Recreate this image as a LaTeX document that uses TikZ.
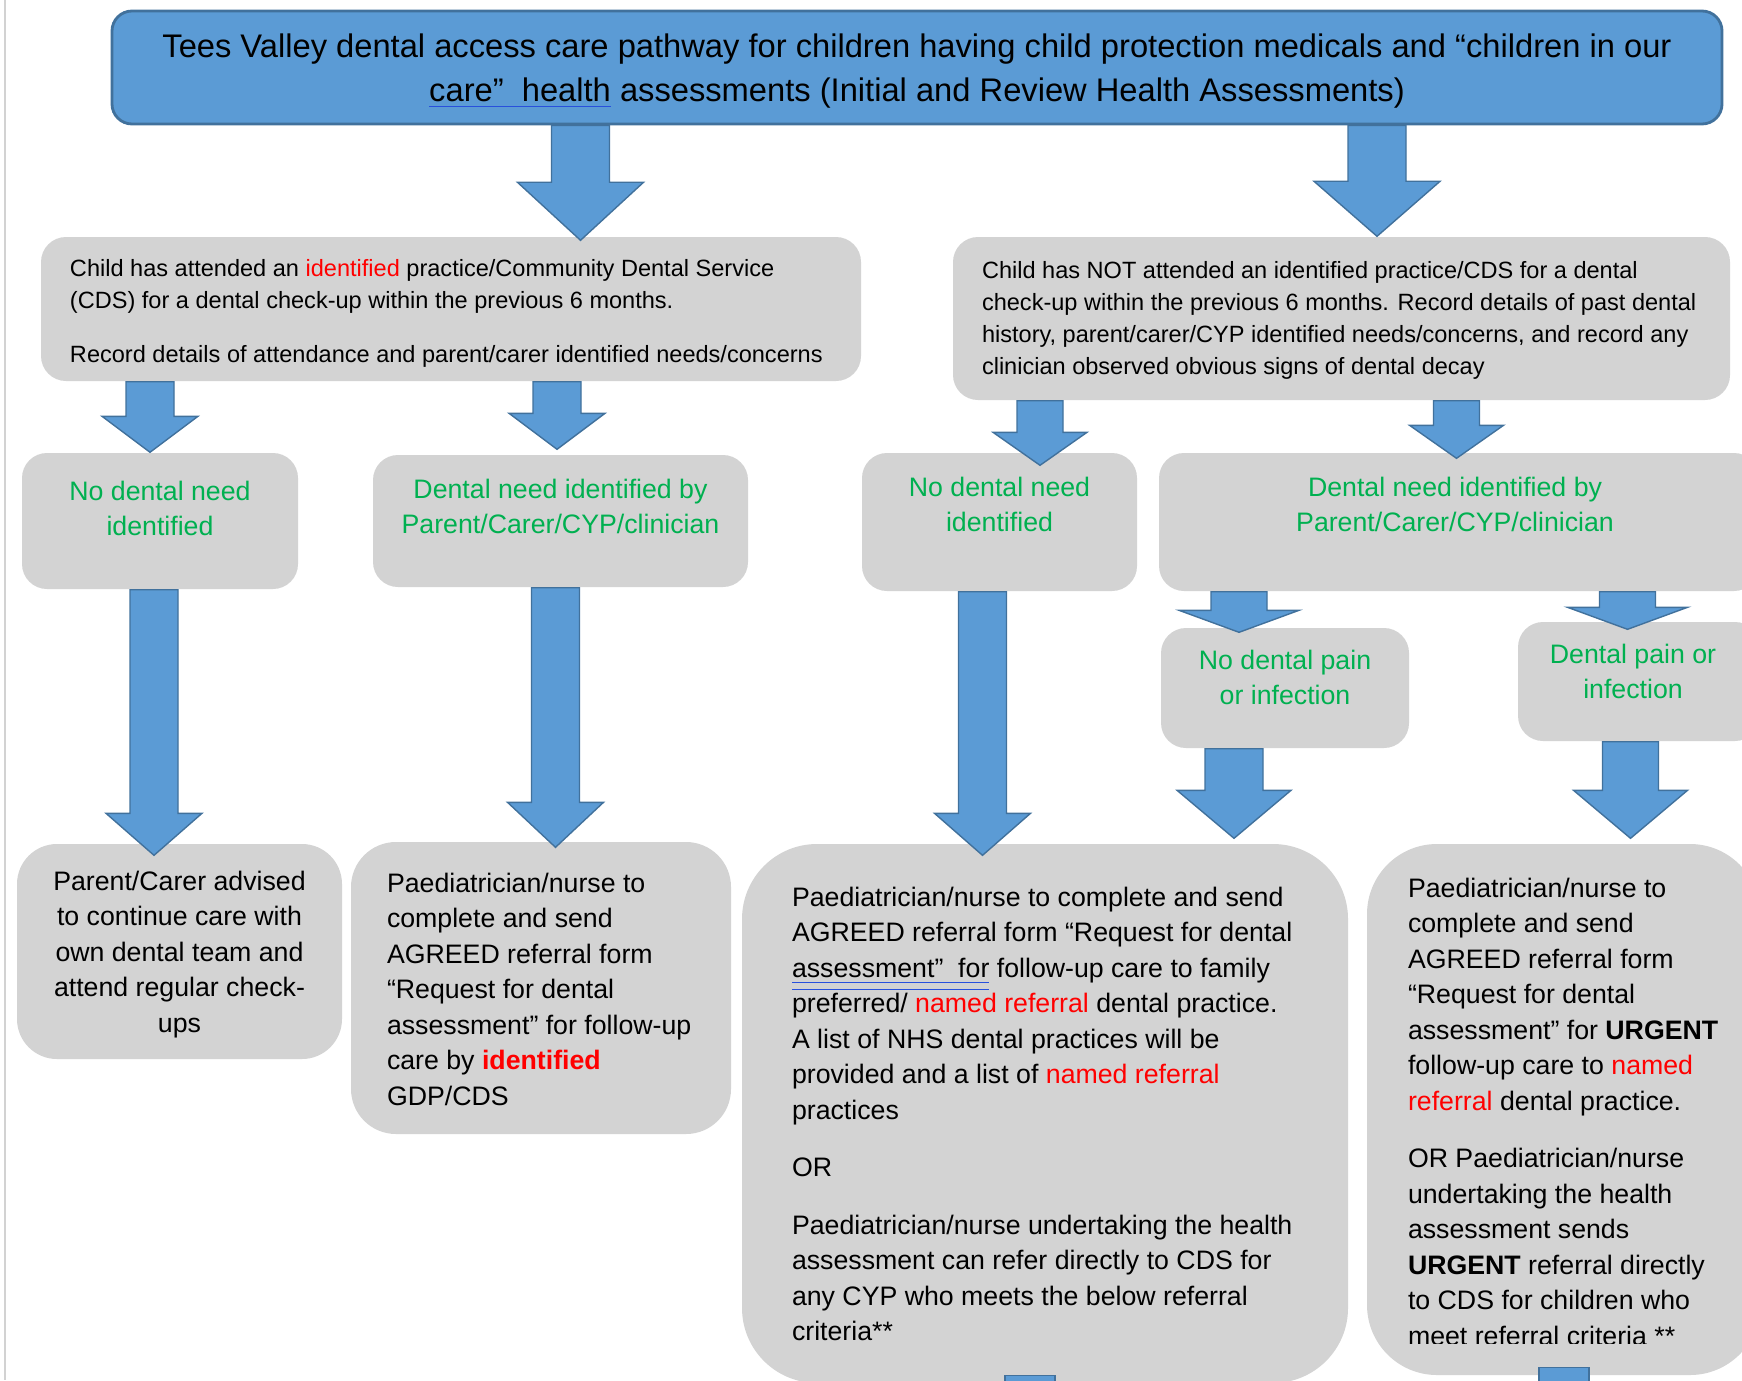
\documentclass[tikz,border=0pt]{standalone}
\usepackage{fontspec}
\setmainfont{Liberation Sans}
\usepackage{xcolor}
\definecolor{PathBlue}{RGB}{91,155,213}
\definecolor{PathEdge}{RGB}{65,113,156}
\definecolor{BoxGray}{RGB}{211,211,211}
\definecolor{NeedGreen}{RGB}{0,176,80}
\definecolor{FlagRed}{RGB}{255,0,0}
\definecolor{MarkBlue}{RGB}{40,80,220}
\usetikzlibrary{positioning}
\usetikzlibrary{calc}

\newcommand{\flag}[1]{\textcolor{FlagRed}{#1}}
\newcommand{\gramline}[1]{{\color{MarkBlue}\underline{\color{black}#1}}}
\newcommand{\gramlines}[1]{{\color{MarkBlue}\underline{\underline{\color{black}#1}}}}

% block arrow: column, from, to, shaft half width, head half width, head length, tip dip
\newcommand{\bigarrow}[7]{%
  \draw[bigarrow] let \p1 = (#1 |- #2.south), \p2 = ([yshift=-#7]#1 |- #3.north) in
    (\x1-#4,\y1) -- (\x1+#4,\y1) -- (\x1+#4,\y2+#6) -- (\x1+#5,\y2+#6)
    -- (\x1,\y2) -- (\x1-#5,\y2+#6) -- (\x1-#4,\y2+#6) -- cycle;}

\begin{document}
\begin{tikzpicture}[
      , box/.style={fill=BoxGray, inner sep=0pt, rounded corners=#1}
      , box/.default=0.25cm
      , titlebox/.style={fill=PathBlue, draw=PathEdge, line width=0.8pt, rounded corners=0.2cm}
      , titletext/.style={align=center, inner sep=0pt, font=\fontsize{9.3}{12.6}\selectfont}
      , bigarrow/.style={fill=PathBlue, draw=PathEdge, line width=0.4pt}
      , note/.style={align=left, inner sep=0pt, font=\fontsize{6.7}{9.1}\selectfont}
      , need/.style={align=center, inner sep=0pt, text=NeedGreen, font=\fontsize{7.6}{10.1}\selectfont}
      , action/.style={align=left, inner sep=0pt, font=\fontsize{7.6}{10.1}\selectfont}
      ]

      \useasboundingbox (0,0) rectangle (17.42,-13.80);
      \clip (0,0) rectangle (17.42,-13.80);
      \draw[gray!35, line width=0.6pt] (0.05,0) -- (0.05,-13.80);

      % title
      \node[titlebox, minimum width=16.10cm, minimum height=1.13cm] (title) at (9.17,-0.675) {};
      \node[titletext] (title-text) at ([yshift=-0.035cm]title.center)
        {Tees Valley dental access care pathway for children having child protection medicals and “children in our\\
         \gramline{care”\ \ health} assessments (Initial and Review Health Assessments)};

      % first split
      \node[box, minimum width=8.20cm, minimum height=1.44cm] (attended) at (4.51,-3.09) {};
      \node[box, minimum width=7.77cm, minimum height=1.63cm] (notattended) at (13.415,-3.185) {};

      \node[note, below right=0.22cm and 0.29cm of attended.north west] (attended-text)
        {Child has attended an \flag{identified} practice/Community Dental Service\\
         (CDS) for a dental check-up within the previous 6 months.\\[0.22cm]
         Record details of attendance and parent/carer identified needs/concerns};
      \node[note, below right=0.24cm and 0.29cm of notattended.north west] (notattended-text)
        {Child has NOT attended an identified practice/CDS for a dental\\
         check-up within the previous 6 months. Record details of past dental\\
         history, parent/carer/CYP identified needs/concerns, and record any\\
         clinician observed obvious signs of dental decay};

      % need / no need
      \node[box, minimum width=2.76cm, minimum height=1.36cm] (noneed-l) at (1.60,-5.21) {};
      \node[box, minimum width=3.75cm, minimum height=1.32cm] (need-l) at (5.605,-5.21) {};
      \node[box, minimum width=2.75cm, minimum height=1.38cm] (noneed-r) at (9.995,-5.22) {};
      \node[box, minimum width=6.00cm, minimum height=1.38cm] (need-r) at (14.59,-5.22) {};

      \node[need, below=0.28cm of noneed-l.north] (noneed-l-text) {No dental need\\identified};
      \node[need, below=0.24cm of need-l.north] (need-l-text) {Dental need identified by\\Parent/Carer/CYP/clinician};
      \node[need, below=0.24cm of noneed-r.north] (noneed-r-text) {No dental need\\identified};
      \node[need, below=0.24cm of need-r.north, xshift=-0.04cm] (need-r-text) {Dental need identified by\\Parent/Carer/CYP/clinician};

      % pain / no pain
      \node[box, minimum width=2.48cm, minimum height=1.20cm] (nopain) at (12.85,-6.88) {};
      \node[box, minimum width=2.42cm, minimum height=1.19cm] (pain) at (16.39,-6.815) {};

      \node[need, below=0.22cm of nopain.north] (nopain-text) {No dental pain\\or infection};
      \node[need, below=0.22cm of pain.north, xshift=-0.06cm] (pain-text) {Dental pain or\\infection};

      % outcomes
      \node[box=0.4cm, minimum width=3.25cm, minimum height=2.15cm] (advise) at (1.795,-9.515) {};
      \node[box=0.45cm, minimum width=3.80cm, minimum height=2.92cm] (refer-known) at (5.41,-9.88) {};
      \node[box=0.75cm, minimum width=6.06cm, minimum height=5.39cm] (refer-named) at (10.45,-11.135) {};
      \node[box=0.7cm, minimum width=3.93cm, minimum height=5.31cm] (refer-urgent) at (15.635,-11.095) {};

      \node[action, align=center, below=0.27cm of advise.north] (advise-text)
        {Parent/Carer advised\\to continue care with\\own dental team and\\attend regular check-\\ups};
      \node[action, below right=0.31cm and 0.36cm of refer-known.north west] (refer-known-text)
        {Paediatrician/nurse to\\complete and send\\AGREED referral form\\“Request for dental\\
         assessment” for follow-up\\care by \flag{\textbf{identified}}\\GDP/CDS};
      \node[action, below right=0.43cm and 0.50cm of refer-named.north west] (refer-named-text)
        {Paediatrician/nurse to complete and send\\
         AGREED referral form “Request for dental\\
         \gramlines{assessment”\ \ for} follow-up care to family\\
         preferred/ \flag{named referral} dental practice.\\
         A list of NHS dental practices will be\\
         provided and a list of \flag{named referral}\\
         practices\\[0.22cm]
         OR\\[0.22cm]
         Paediatrician/nurse undertaking the health\\
         assessment can refer directly to CDS for\\
         any CYP who meets the below referral\\
         criteria**};
      \begin{scope}
        \clip (13.0,-8.0) rectangle (17.42,-13.43);
        \node[action, below right=0.34cm and 0.41cm of refer-urgent.north west] (refer-urgent-text)
          {Paediatrician/nurse to\\complete and send\\AGREED referral form\\“Request for dental\\
           assessment” for \textbf{URGENT}\\follow-up care to \flag{named}\\
           \flag{referral} dental practice.\\[0.22cm]
           OR Paediatrician/nurse\\undertaking the health\\assessment sends\\
           \textbf{URGENT} referral directly\\to CDS for children who\\meet referral criteria **};
      \end{scope}

      % arrow columns
      \coordinate (col-t1) at (5.805,0);
      \coordinate (col-t2) at (13.77,0);
      \coordinate (col-a1) at (1.50,0);
      \coordinate (col-a2) at (5.57,0);
      \coordinate (col-b1) at (10.40,0);
      \coordinate (col-b2) at (14.565,0);
      \coordinate (col-c1) at (1.54,0);
      \coordinate (col-c2) at (5.555,0);
      \coordinate (col-c3) at (9.825,0);
      \coordinate (col-d1) at (12.39,0);
      \coordinate (col-d2) at (16.275,0);
      \coordinate (col-e1) at (12.34,0);
      \coordinate (col-e2) at (16.305,0);
      \coordinate (col-f3) at (10.30,-14.30);
      \coordinate (col-f4) at (15.64,-14.30);

      \bigarrow{col-t1}{title}{attended}{0.29cm}{0.63cm}{0.58cm}{0.04cm}
      \bigarrow{col-t2}{title}{notattended}{0.29cm}{0.63cm}{0.55cm}{0cm}

      \bigarrow{col-a1}{attended}{noneed-l}{0.24cm}{0.48cm}{0.36cm}{0cm}
      \bigarrow{col-a2}{attended}{need-l}{0.24cm}{0.48cm}{0.36cm}{-0.05cm}
      \bigarrow{col-b1}{notattended}{noneed-r}{0.23cm}{0.47cm}{0.33cm}{0.13cm}
      \bigarrow{col-b2}{notattended}{need-r}{0.23cm}{0.47cm}{0.33cm}{0.06cm}

      \bigarrow{col-c1}{noneed-l}{advise}{0.24cm}{0.48cm}{0.42cm}{0.12cm}
      \bigarrow{col-c2}{need-l}{refer-known}{0.24cm}{0.48cm}{0.45cm}{0.06cm}
      \bigarrow{col-c3}{noneed-r}{refer-named}{0.24cm}{0.48cm}{0.42cm}{0.12cm}

      \bigarrow{col-d1}{need-r}{nopain}{0.28cm}{0.60cm}{0.22cm}{0.05cm}
      \bigarrow{col-d2}{need-r}{pain}{0.28cm}{0.60cm}{0.22cm}{0.08cm}
      \bigarrow{col-e1}{nopain}{refer-named}{0.29cm}{0.57cm}{0.48cm}{-0.05cm}
      \bigarrow{col-e2}{pain}{refer-urgent}{0.28cm}{0.57cm}{0.48cm}{-0.05cm}

      % stubs running on to the next page
      \draw[bigarrow] ([shift={(-0.25cm,0.08cm)}]col-f3 |- refer-named.south) rectangle ([xshift=0.25cm]col-f3);
      \draw[bigarrow] ([shift={(-0.25cm,0.08cm)}]col-f4 |- refer-urgent.south) rectangle ([xshift=0.25cm]col-f4);
    \end{tikzpicture}
\end{document}
